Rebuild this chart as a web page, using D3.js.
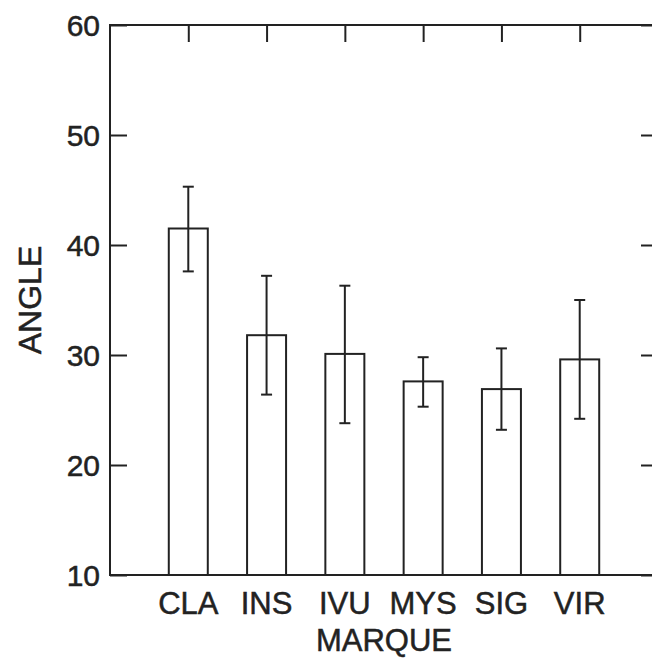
<!DOCTYPE html>
<html>
<head>
<meta charset="utf-8">
<script src="https://cdn.jsdelivr.net/npm/d3@7"></script>
<style>
  body { margin: 0; background: #fff; }
  svg { display: block; }
  text { font-family: "Liberation Sans", Arial, sans-serif; fill: #222; stroke: #222; stroke-width: 0.5px; }
</style>
</head>
<body>
<svg width="652" height="658"></svg>
<script>
// data
var categories = ["CLA", "INS", "IVU", "MYS", "SIG", "VIR"];
var means = [41.5, 31.8, 30.1, 27.6, 26.9, 29.6];
var upper = [45.3, 37.2, 36.3, 29.8, 30.6, 35.0];
var lower = [37.6, 26.4, 23.8, 25.3, 23.2, 24.2];
var yTicks = [10, 20, 30, 40, 50, 60];

var svg = d3.select("svg"),
    margin = { top: 25, right: -6, bottom: 83, left: 110 },
    width = 652 - margin.left - margin.right,
    height = 658 - margin.top - margin.bottom;

var ink = "#222";

var x = d3.scalePoint().domain(categories).range([0, width]).padding(1);
var y = d3.scaleLinear().domain([10, 60]).range([height, 0]);

var g = svg.append("g")
    .attr("transform", "translate(" + margin.left + "," + margin.top + ")");

var data = categories.map(function (c, i) {
    return { cat: c, mean: means[i], hi: upper[i], lo: lower[i] };
});

// bottom ticks (faint, inside the bars)
g.append("g")
    .selectAll("line")
    .data(categories)
    .enter().append("line")
    .attr("x1", function (d) { return x(d); })
    .attr("x2", function (d) { return x(d); })
    .attr("y1", height)
    .attr("y2", height - 17)
    .attr("stroke", ink)
    .attr("stroke-opacity", 0.45)
    .attr("stroke-width", 1.5);

// bars
var barW = 39;
g.selectAll(".bar")
    .data(data)
    .enter().append("rect")
    .attr("class", "bar")
    .attr("x", function (d) { return x(d.cat) - barW / 2; })
    .attr("y", function (d) { return y(d.mean); })
    .attr("width", barW)
    .attr("height", function (d) { return height - y(d.mean); })
    .attr("fill", "#fff")
    .attr("stroke", ink)
    .attr("stroke-width", 2);

// error bars
var err = g.selectAll(".err")
    .data(data)
    .enter().append("g")
    .attr("class", "err")
    .attr("stroke", ink)
    .attr("stroke-width", 2);

err.append("line")
    .attr("x1", function (d) { return x(d.cat); })
    .attr("x2", function (d) { return x(d.cat); })
    .attr("y1", function (d) { return y(d.hi); })
    .attr("y2", function (d) { return y(d.lo); });

["hi", "lo"].forEach(function (k) {
    err.append("line")
        .attr("x1", function (d) { return x(d.cat) - 5.5; })
        .attr("x2", function (d) { return x(d.cat) + 5.5; })
        .attr("y1", function (d) { return y(d[k]); })
        .attr("y2", function (d) { return y(d[k]); });
});

// left axis ticks
g.append("g")
    .attr("class", "y axis")
    .call(d3.axisRight(y).tickValues(yTicks).tickSize(17).tickFormat(""))
    .call(function (a) {
        a.selectAll("line").attr("stroke", ink).attr("stroke-width", 2);
        a.select("path").remove();
    });

g.selectAll(".ylab")
    .data(yTicks)
    .enter().append("text")
    .attr("class", "ylab")
    .attr("x", -10)
    .attr("y", function (d) { return y(d); })
    .attr("dy", "0.36em")
    .attr("text-anchor", "end")
    .style("font-size", "30px")
    .text(function (d) { return d; });

// right axis ticks
g.append("g")
    .attr("transform", "translate(" + width + ",0)")
    .call(d3.axisLeft(y).tickValues(yTicks).tickSize(17).tickFormat(""))
    .call(function (a) {
        a.selectAll("line").attr("stroke", ink).attr("stroke-width", 2);
        a.select("path").remove();
    });

// top axis ticks
g.append("g")
    .call(d3.axisBottom(x).tickSize(17).tickFormat(""))
    .call(function (a) {
        a.selectAll("line").attr("stroke", ink).attr("stroke-width", 2);
        a.select("path").remove();
    });

// frame
g.append("rect")
    .attr("width", width)
    .attr("height", height)
    .attr("fill", "none")
    .attr("stroke", ink)
    .attr("stroke-width", 2);

// x labels
g.selectAll(".xlab")
    .data(categories)
    .enter().append("text")
    .attr("class", "xlab")
    .attr("x", function (d) { return x(d); })
    .attr("y", height + 39)
    .attr("text-anchor", "middle")
    .style("font-size", "31px")
    .text(function (d) { return d; });

g.append("text")
    .attr("x", width / 2)
    .attr("y", height + 76)
    .attr("text-anchor", "middle")
    .style("font-size", "31px")
    .text("MARQUE");

svg.append("text")
    .attr("transform", "translate(41," + (margin.top + height / 2) + ") rotate(-90)")
    .attr("text-anchor", "middle")
    .style("font-size", "32px")
    .text("ANGLE");
</script>
</body>
</html>
